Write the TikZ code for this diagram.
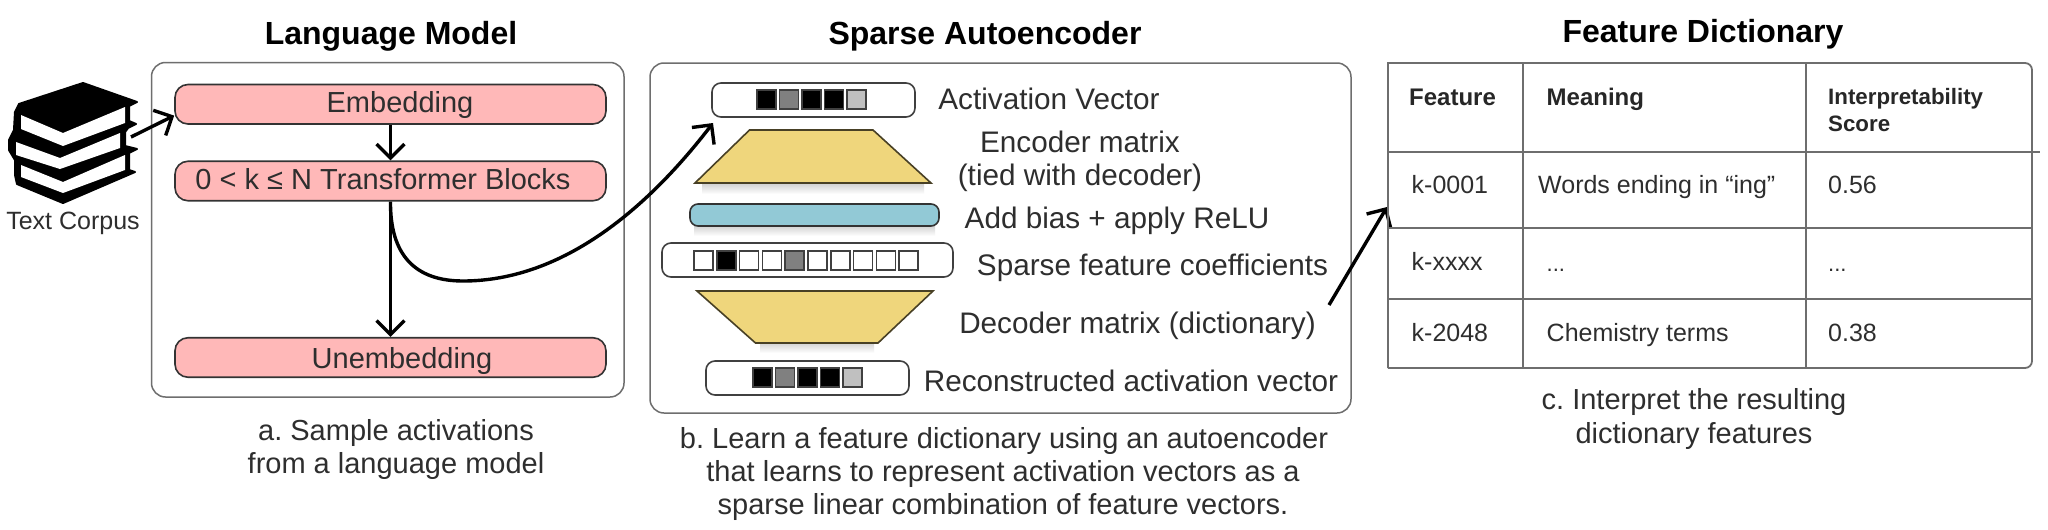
\documentclass[tikz,border=0pt]{standalone}
\usepackage{fontspec}
\setmainfont{Liberation Sans}
\usetikzlibrary{arrows.meta}
\definecolor{txt}{HTML}{2E2E2E}
\definecolor{boxline}{HTML}{6E6E6E}
\definecolor{pink}{HTML}{FFB8B8}
\definecolor{gold}{HTML}{EFD67C}
\definecolor{teal}{HTML}{92C9D6}
\definecolor{midgray}{HTML}{808080}
\definecolor{lightgray}{HTML}{C0C0C0}
\frenchspacing
\tikzset{
  lab/.style={font=\fontsize{29}{34}\selectfont, text=txt, anchor=base, inner sep=0pt},
  saelab/.style={font=\fontsize{29.7}{34}\selectfont, text=txt, anchor=base, inner sep=0pt},
  heading/.style={font=\fontsize{32}{38}\selectfont\bfseries, text=black, anchor=base, inner sep=0pt},
  corpus/.style={font=\fontsize{25}{29}\selectfont, text=txt, anchor=base, inner sep=0pt},
  cell/.style={font=\fontsize{25}{30}\selectfont, text=txt, anchor=base west, inner sep=0pt},
  headcell/.style={font=\fontsize{24}{28}\selectfont\bfseries, text=txt!85!black, anchor=base west, inner sep=0pt},
  scorecell/.style={font=\fontsize{22.3}{26}\selectfont\bfseries, text=txt!85!black, anchor=base west, inner sep=0pt},
  panel/.style={draw=boxline, line width=1.5pt, rounded corners=14pt, fill=white, inner sep=0pt},
  pill/.style={draw=black!80, line width=1.6pt, fill=pink, rounded corners=13pt, minimum width=431pt, minimum height=39.5pt, inner sep=0pt},
  vecbox/.style={draw=black!75, line width=1.6pt, fill=white, rounded corners=9pt, minimum height=34pt, inner sep=0pt},
  cellsq/.style={draw=black!75, line width=1.5pt, minimum size=19pt, inner sep=0pt},
  barbarrow/.style={draw=black, line width=3.4pt, -{Straight Barb[length=14pt,width=28pt,line width=3.4pt]}},
  trap/.style={fill=gold, draw=black!70!gold, line width=1.6pt, line join=miter},
  softshadow/.style={top color=black!17, bottom color=white},
  tline/.style={draw=boxline, line width=1.8pt},
}
\begin{document}
\begin{tikzpicture}[x=1pt,y=-1pt]
\useasboundingbox (0,0) rectangle (2048,530);
\fill[white] (0,0) rectangle (2048,530);

% headings
\node[heading] (h1) at (391,44) {Language Model};
\node[heading] (h2) at (985,44) {Sparse Autoencoder};
\node[heading] (h3) at (1703,42) {Feature Dictionary};

% panels
\node[panel, minimum width=472.5pt, minimum height=334.5pt] (lm) at (387.75,229.75) {};
\node[panel, minimum width=701pt, minimum height=350pt] (sae) at (1000.5,238) {};

% books
\fill[black, line join=round, draw=black, line width=2pt]
  (83,83) -- (137,102) -- (129,106) -- (129,121) -- (136,124) -- (128,128) -- (125,132)
  -- (125,146) -- (137,149) -- (129,153) -- (129,170) -- (135,172) -- (63,203) -- (17,184)
  -- (15,175) -- (15,160) -- (9,150) -- (9,140) -- (14,130) -- (15,112) -- (19,104) -- cycle;
\fill[white] (21,115) -- (63,133) -- (125,107) -- (125,123) -- (63,146) -- (21,129) -- cycle;
\fill[white] (16,142) -- (60,158) -- (120,133) -- (120,148) -- (60,169) -- (16,155) -- cycle;
\fill[white] (21,165) -- (63,182) -- (125,155) -- (125,170) -- (63,193) -- (21,177) -- cycle;
\node[corpus] (corpus) at (73,229) {Text Corpus};
\coordinate (booksout) at (131,137);

% language model
\node[pill] (emb) at (390.5,104.25) {};
\node[lab] (embt) at (400,112.5) {Embedding};
\node[pill] (blocks) at (390.5,181) {};
\node[lab] (blockst) at (383,189) {0 < k ≤ N Transformer Blocks};
\node[pill] (unemb) at (390.5,357.5) {};
\node[lab] (unembt) at (402,368) {Unembedding};
\draw[barbarrow] (booksout) -- (emb.183.5);
\draw[barbarrow] (emb.south) -- (blocks.north);
\draw[barbarrow] (blocks.south) -- (unemb.north);
\node[lab] (ca1) at (396,440.5) {a. Sample activations};
\node[lab] (ca2) at (396,473) {from a language model};

% autoencoder
\node[vecbox, minimum width=203pt] (act) at (813.5,100) {};
\foreach \i/\c in {0/black,1/midgray,2/black,3/black,4/lightgray}
  \node[cellsq, fill=\c] (a\i) at ({766.5+22.5*\i},99.5) {};
\node[saelab] (actt) at (1049,109) {Activation Vector};

\shade[softshadow] (702,184) rectangle (924,194);
\draw[trap] (749.5,130) -- (873,130) -- (931,183) -- (695,183) -- cycle;
\node[saelab] (enct1) at (1080,152) {Encoder matrix};
\node[saelab] (enct2) at (1080,185) {(tied with decoder)};

\shade[softshadow] (694,226) rectangle (935,236);
\node[draw=black!80, line width=1.6pt, fill=teal, rounded corners=8pt, minimum width=249pt, minimum height=22pt, inner sep=0pt] (bias) at (814.5,215) {};
\node[saelab] (biast) at (1117,228) {Add bias + apply ReLU};

\node[vecbox, minimum width=291pt] (sp) at (807.5,260) {};
\foreach \i/\c in {0/white,1/black,2/white,3/white,4/midgray,5/white,6/white,7/white,8/white,9/white}
  \node[cellsq, fill=\c] (s\i) at ({703.5+22.8*\i},260.5) {};
\node[saelab] (spt) at (1152.5,275) {Sparse feature coefficients};

\shade[softshadow] (760,343) rectangle (874,353);
\draw[trap] (697,291) -- (933,291) -- (878,343) -- (755.5,343) -- cycle;
\node[saelab] (dect) at (1137.5,333) {Decoder matrix (dictionary)};

\node[vecbox, minimum width=203pt] (rec) at (807.5,378) {};
\foreach \i/\c in {0/black,1/midgray,2/black,3/black,4/lightgray}
  \node[cellsq, fill=\c] (r\i) at ({762.5+22.5*\i},377.5) {};
\node[saelab] (rect) at (1131,391) {Reconstructed activation vector};

\node[lab] (cb1) at (1004,448) {b. Learn a feature dictionary using an autoencoder};
\node[lab] (cb2) at (1003,481) {that learns to represent activation vectors as a};
\node[lab] (cb3) at (1003,514) {sparse linear combination of feature vectors.};

% connectors between panels
\coordinate (avtip) at (713,123);
\draw[barbarrow] (blocks.south) .. controls (390,255) and (415,281) .. (463,281)
  .. controls (565,281) and (650,205) .. (avtip);
\coordinate (decout) at (1329,305);
\coordinate (tabtip) at (1387,207);
\draw[barbarrow] (decout) -- (tabtip);

% table
\draw[tline] (1388,368) -- (1388,63) [rounded corners=7pt] -- (2032,63) -- (2032,368) [sharp corners] -- (1388,368);
\draw[tline] (1523,63) -- (1523,368);
\draw[tline] (1806,63) -- (1806,368);
\draw[tline] (1388,152) -- (2040,152);
\draw[tline] (1388,228) -- (2032,228);
\draw[tline] (1388,299) -- (2032,299);
\node[headcell] (t1) at (1409,105) {Feature};
\node[headcell] (t2) at (1546.5,105) {Meaning};
\node[scorecell] (t3) at (1828,104) {Interpretability};
\node[scorecell] (t4) at (1828,131) {Score};
\node[cell] (t5) at (1411.5,193) {k-0001};
\node[cell] (t6) at (1538,193) {Words ending in “ing”};
\node[cell] (t7) at (1828,193) {0.56};
\node[cell] (t8) at (1411.5,270) {k-xxxx};
\node[cell, font=\fontsize{22}{26}\selectfont] (t9) at (1546.5,271) {...};
\node[cell, font=\fontsize{22}{26}\selectfont] (t10) at (1828,271) {...};
\node[cell] (t11) at (1411.5,341) {k-2048};
\node[cell] (t12) at (1546.5,341) {Chemistry terms};
\node[cell] (t13) at (1828,341) {0.38};

\node[lab] (cc1) at (1694,409) {c. Interpret the resulting};
\node[lab] (cc2) at (1694,443) {dictionary features};
\end{tikzpicture}
\end{document}
